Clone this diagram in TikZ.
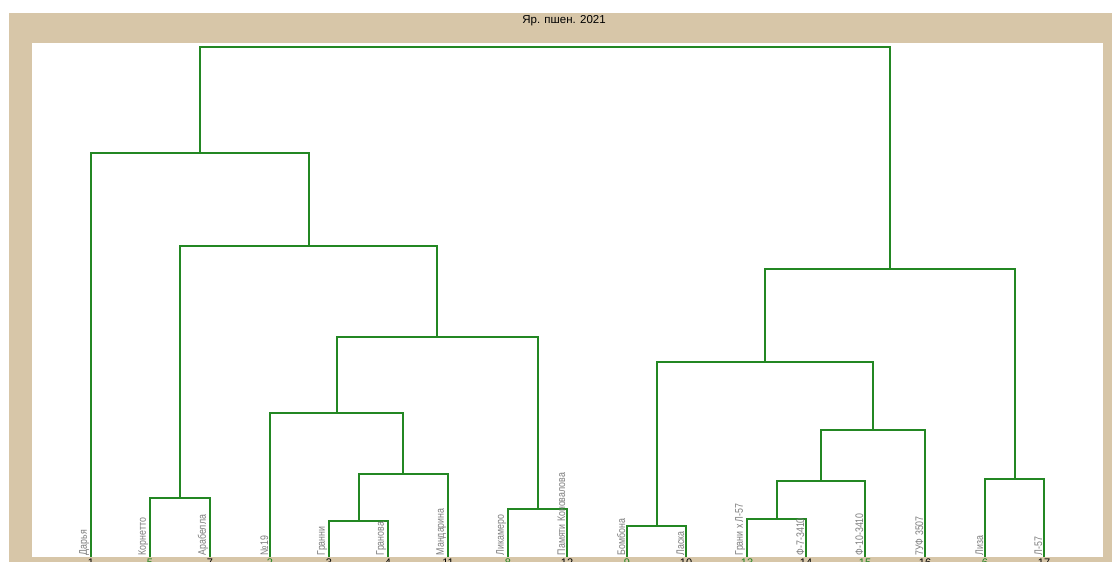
\documentclass[tikz,border=0pt]{standalone}
\usepackage{fontspec}
\setmainfont{Liberation Sans}
\newfontfamily\lblfont[FakeStretch=0.8]{Liberation Sans}
\definecolor{framecol}{RGB}{215,198,168}
\definecolor{treecol}{RGB}{35,135,35}
\definecolor{lblcol}{RGB}{125,125,125}
\definecolor{numgreen}{RGB}{30,130,30}
\begin{document}
\begin{tikzpicture}[x=1pt,y=-1pt,
  branch/.style={draw=treecol, line width=1.25pt},
  leaflabel/.style={rotate=90, anchor=south west, inner sep=0.6pt, text=lblcol,
    font=\lblfont\fontsize{11}{12}\selectfont},
  leafnum/.style={anchor=north, inner sep=0pt, font=\fontsize{11}{12}\selectfont},
  numg/.style={leafnum, text=numgreen},
  numk/.style={leafnum, text=black}]
\clip (0,0) rectangle (1112,562);
\useasboundingbox (0,0) rectangle (1112,562);
% frame
\fill[framecol] (9,13) rectangle (1112,562);
\fill[white] (32,43) rectangle (1103,557);
\node[font=\fontsize{11.5}{13}\selectfont, inner sep=0pt] (title) at (564,21) {Яр. пшен. 2021};
% leaves
\coordinate (L1) at (91,557);
\coordinate (L2) at (150,557);
\coordinate (L3) at (210,557);
\coordinate (L4) at (270,557);
\coordinate (L5) at (329,557);
\coordinate (L6) at (388,557);
\coordinate (L7) at (448,557);
\coordinate (L8) at (508,557);
\coordinate (L9) at (567,557);
\coordinate (L10) at (627,557);
\coordinate (L11) at (686,557);
\coordinate (L12) at (747,557);
\coordinate (L13) at (806,557);
\coordinate (L14) at (865,557);
\coordinate (L15) at (925,557);
\coordinate (L16) at (985,557);
\coordinate (L17) at (1044,557);
% merges
\coordinate (A) at (359,521);
\coordinate (B) at (180,498);
\coordinate (C) at (538,509);
\coordinate (D) at (657,526);
\coordinate (E) at (777,519);
\coordinate (F) at (1015,479);
\coordinate (G) at (403,474);
\coordinate (H) at (821,481);
\coordinate (I) at (337,413);
\coordinate (J) at (873,430);
\coordinate (K) at (437,337);
\coordinate (M) at (765,362);
\coordinate (N) at (309,246);
\coordinate (P) at (890,269);
\coordinate (Q) at (200,153);
\coordinate (R) at (545,47);
\draw[branch] (L5) |- (A) -| (L6);
\draw[branch] (L2) |- (B) -| (L3);
\draw[branch] (L8) |- (C) -| (L9);
\draw[branch] (L10) |- (D) -| (L11);
\draw[branch] (L12) |- (E) -| (L13);
\draw[branch] (L16) |- (F) -| (L17);
\draw[branch] (A) |- (G) -| (L7);
\draw[branch] (E) |- (H) -| (L14);
\draw[branch] (L4) |- (I) -| (G);
\draw[branch] (H) |- (J) -| (L15);
\draw[branch] (I) |- (K) -| (C);
\draw[branch] (D) |- (M) -| (J);
\draw[branch] (B) |- (N) -| (K);
\draw[branch] (M) |- (P) -| (F);
\draw[branch] (L1) |- (Q) -| (N);
\draw[branch] (Q) |- (R) -| (P);
% labels
\node[leaflabel] (t1) at ([shift={(-1,-1)}]L1) {Дарья};
\node[leaflabel] (t2) at ([shift={(-1,-1)}]L2) {Корнетто};
\node[leaflabel] (t3) at ([shift={(-1,-1)}]L3) {Арабелла};
\node[leaflabel] (t4) at ([shift={(-1,-1)}]L4) {№19};
\node[leaflabel] (t5) at ([shift={(-1,-1)}]L5) {Гранни};
\node[leaflabel] (t6) at ([shift={(-1,-1)}]L6) {Гранова};
\node[leaflabel] (t7) at ([shift={(-1,-1)}]L7) {Мандарина};
\node[leaflabel] (t8) at ([shift={(-1,-1)}]L8) {Ликамеро};
\node[leaflabel] (t9) at ([shift={(-1,-1)}]L9) {Памяти Коновалова};
\node[leaflabel] (t10) at ([shift={(-1,-1)}]L10) {Бомбона};
\node[leaflabel] (t11) at ([shift={(-1,-1)}]L11) {Ласка};
\node[leaflabel] (t12) at ([shift={(-1,-1)}]L12) {Грани х Л-57};
\node[leaflabel] (t13) at ([shift={(-1,-1)}]L13) {Ф-7-3410};
\node[leaflabel] (t14) at ([shift={(-1,-1)}]L14) {Ф-10-3410};
\node[leaflabel] (t15) at ([shift={(-1,-1)}]L15) {7УФ 3507};
\node[leaflabel] (t16) at ([shift={(-1,-1)}]L16) {Лиза};
\node[leaflabel] (t17) at ([shift={(-1,-1)}]L17) {Л-57};
% leaf numbers (cut off by the lower edge, as in the reference)
\node[numk] (n1) at ([yshift=-1.5pt]L1) {1};
\node[numg] (n2) at ([yshift=-1.5pt]L2) {5};
\node[numk] (n3) at ([yshift=-1.5pt]L3) {7};
\node[numg] (n4) at ([yshift=-1.5pt]L4) {2};
\node[numk] (n5) at ([yshift=-1.5pt]L5) {3};
\node[numk] (n6) at ([yshift=-1.5pt]L6) {4};
\node[numk] (n7) at ([yshift=-1.5pt]L7) {11};
\node[numg] (n8) at ([yshift=-1.5pt]L8) {8};
\node[numk] (n9) at ([yshift=-1.5pt]L9) {12};
\node[numg] (n10) at ([yshift=-1.5pt]L10) {9};
\node[numk] (n11) at ([yshift=-1.5pt]L11) {10};
\node[numg] (n12) at ([yshift=-1.5pt]L12) {13};
\node[numk] (n13) at ([yshift=-1.5pt]L13) {14};
\node[numg] (n14) at ([yshift=-1.5pt]L14) {15};
\node[numk] (n15) at ([yshift=-1.5pt]L15) {16};
\node[numg] (n16) at ([yshift=-1.5pt]L16) {6};
\node[numk] (n17) at ([yshift=-1.5pt]L17) {17};
\end{tikzpicture}
\end{document}
